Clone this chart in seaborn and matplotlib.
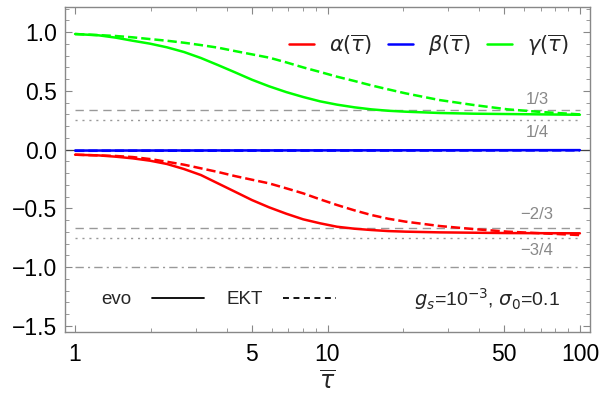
import numpy as np
import pandas as pd
import seaborn as sns
import matplotlib
matplotlib.use("Agg")
import matplotlib.pyplot as plt
from matplotlib.lines import Line2D
from matplotlib.ticker import FixedLocator, NullFormatter, FixedFormatter

# ---- data ----
tau = [1.00, 1.24, 1.45, 1.69, 1.98, 2.31, 2.70, 3.15, 3.68, 4.30, 5.02, 5.87, 6.86,
       8.01, 9.35, 10.9, 12.8, 14.9, 17.4, 20.4, 27.8, 37.9, 51.7, 70.6, 100]

gamma_evo = [0.983, 0.972, 0.952, 0.926, 0.901, 0.870, 0.830, 0.779, 0.719, 0.657, 0.594, 0.538, 0.489,
             0.447, 0.410, 0.382, 0.359, 0.342, 0.330, 0.322, 0.311, 0.305, 0.302, 0.299, 0.296]
gamma_ekt = [0.983, 0.974, 0.966, 0.955, 0.940, 0.926, 0.909, 0.889, 0.867, 0.838, 0.810, 0.782, 0.742,
             0.699, 0.660, 0.620, 0.583, 0.546, 0.512, 0.478, 0.421, 0.379, 0.342, 0.319, 0.299]
alpha_evo = [-0.044, -0.050, -0.061, -0.075, -0.095, -0.123, -0.166, -0.217, -0.288, -0.359, -0.430, -0.492, -0.546,
             -0.594, -0.628, -0.657, -0.674, -0.685, -0.694, -0.699, -0.705, -0.708, -0.711, -0.712, -0.713]
alpha_ekt = [-0.044, -0.050, -0.055, -0.064, -0.081, -0.104, -0.129, -0.160, -0.191, -0.226, -0.257, -0.288, -0.330,
             -0.373, -0.424, -0.472, -0.518, -0.557, -0.589, -0.614, -0.651, -0.677, -0.699, -0.713, -0.728]

tau_b = [1, 10, 100]
beta_evo = [-0.009, -0.007, -0.005]
beta_ekt = [-0.011, -0.009, -0.007]

ref_dashed = [1/3, -2/3]
ref_dotted = [1/4, -3/4]
ref_dashdot = [-1.0]
ref_labels = ["1/3", "1/4", "\u22122/3", "\u22123/4"]
ref_label_y = [0.427, 0.143, -0.557, -0.86]

xticks_major = [1, 5, 10, 50, 100]
xtick_labels = ["1", "5", "10", "50", "100"]
xticks_minor = [2, 3, 4, 6, 7, 8, 9, 20, 30, 40, 60, 70, 80, 90]
yticks_major = [-1.5, -1.0, -0.5, 0.0, 0.5, 1.0]
ytick_labels = ["\u22121.5", "\u22121.0", "\u22120.5", "0.0", "0.5", "1.0"]

# ---- plotting ----
sns.set_theme(style="white")
plt.rcParams["font.family"] = ["Liberation Sans", "DejaVu Sans"]
plt.rcParams["mathtext.fontset"] = "dejavusans"

fig = plt.figure(figsize=(6.01, 3.99), dpi=100)
ax = fig.add_axes([65/601, 1-332/399, (590-65)/601, (332-7)/399])

RED, BLUE, GREEN = "#ff0000", "#0000ff", "#00ff00"
GRAY = "#999999"
lw = 1.8

# reference lines
ax.axhline(0, color="#444444", lw=0.9, zorder=1)
for y in ref_dashed:
    ax.hlines(y, 1, 100, color=GRAY, lw=1.0, linestyles=(0, (6, 4)), zorder=1)
for y in ref_dotted:
    ax.hlines(y, 1, 100, color=GRAY, lw=1.0, linestyles=(0, (1.5, 3.5)), zorder=1)
for y in ref_dashdot:
    ax.hlines(y, 1, 100, color=GRAY, lw=1.0, linestyles=(0, (6, 3, 1.5, 3)), zorder=1)
for t, y in zip(ref_labels, ref_label_y):
    ax.text(67.6, y, t, color="#888888", fontsize=12, ha="center", va="center")

series = [
    (tau_b, beta_evo, BLUE, "-"), (tau_b, beta_ekt, BLUE, "--"),
    (tau, gamma_evo, GREEN, "-"), (tau, gamma_ekt, GREEN, "--"),
    (tau, alpha_evo, RED, "-"), (tau, alpha_ekt, RED, "--"),
]
for tx, vy, c, ls in series:
    df = pd.DataFrame({"tau": tx, "v": vy})
    line_kw = dict(dashes=(4, 2)) if ls == "--" else {}
    sns.lineplot(data=df, x="tau", y="v", ax=ax, color=c, lw=lw, linestyle=ls,
                 zorder=3, **line_kw)

ax.set_xscale("log")
ax.set_xlim(10**-0.04, 10**2.04)
ax.set_ylim(-1.553, 1.213)

ax.xaxis.set_major_locator(FixedLocator(xticks_major))
ax.xaxis.set_major_formatter(FixedFormatter(xtick_labels))
ax.xaxis.set_minor_locator(FixedLocator(xticks_minor))
ax.xaxis.set_minor_formatter(NullFormatter())
ax.yaxis.set_major_locator(FixedLocator(yticks_major))
ax.yaxis.set_major_formatter(FixedFormatter(ytick_labels))
ax.yaxis.set_minor_locator(FixedLocator([v/10 for v in range(-15, 13) if v % 5 != 0]))

FRAME = "#888888"
for s in ax.spines.values():
    s.set_color(FRAME)
    s.set_linewidth(1.0)
ax.tick_params(which="both", direction="in", bottom=True, left=True, top=True, right=True,
               colors=FRAME, labelcolor="black", labelsize=16.5)
ax.tick_params(which="major", length=5, width=0.8)
ax.tick_params(which="minor", length=3, width=0.6)
ax.tick_params(axis="x", which="major", pad=8)
ax.tick_params(axis="y", which="major", pad=6)

ax.set_xlabel(r"$\overline{\tau}$", fontsize=17, labelpad=4)
ax.set_ylabel("")

# top legend
h1 = [Line2D([], [], color=RED, lw=lw), Line2D([], [], color=BLUE, lw=lw), Line2D([], [], color=GREEN, lw=lw)]
l1 = [r"$\alpha(\overline{\tau})$", r"$\beta(\overline{\tau})$", r"$\gamma(\overline{\tau})$"]
leg1 = ax.legend(h1, l1, loc="center right", bbox_to_anchor=(0.958, 0.883), ncol=3, frameon=False,
                 fontsize=15, handlelength=1.2, columnspacing=0.8, handletextpad=0.7,
                 borderpad=0, borderaxespad=0)
ax.add_artist(leg1)

# bottom legend
h2 = [Line2D([], [], color="black", lw=1.3), Line2D([], [], color="black", lw=1.3, dashes=(3.3, 2.5))]
leg2 = ax.legend(h2, ["evo", "EKT"], loc="center left", bbox_to_anchor=(0.069, 0.10), ncol=2,
                 frameon=False, fontsize=13.5, markerfirst=False, handlelength=2.8,
                 columnspacing=1.15, handletextpad=1.1, borderpad=0, borderaxespad=0)

ax.text(0.943, 0.10, r"$g_s$=10$^{-3}$, $\sigma_0$=0.1", transform=ax.transAxes,
        ha="right", va="center", fontsize=14)

fig.savefig("out.png", dpi=100)
